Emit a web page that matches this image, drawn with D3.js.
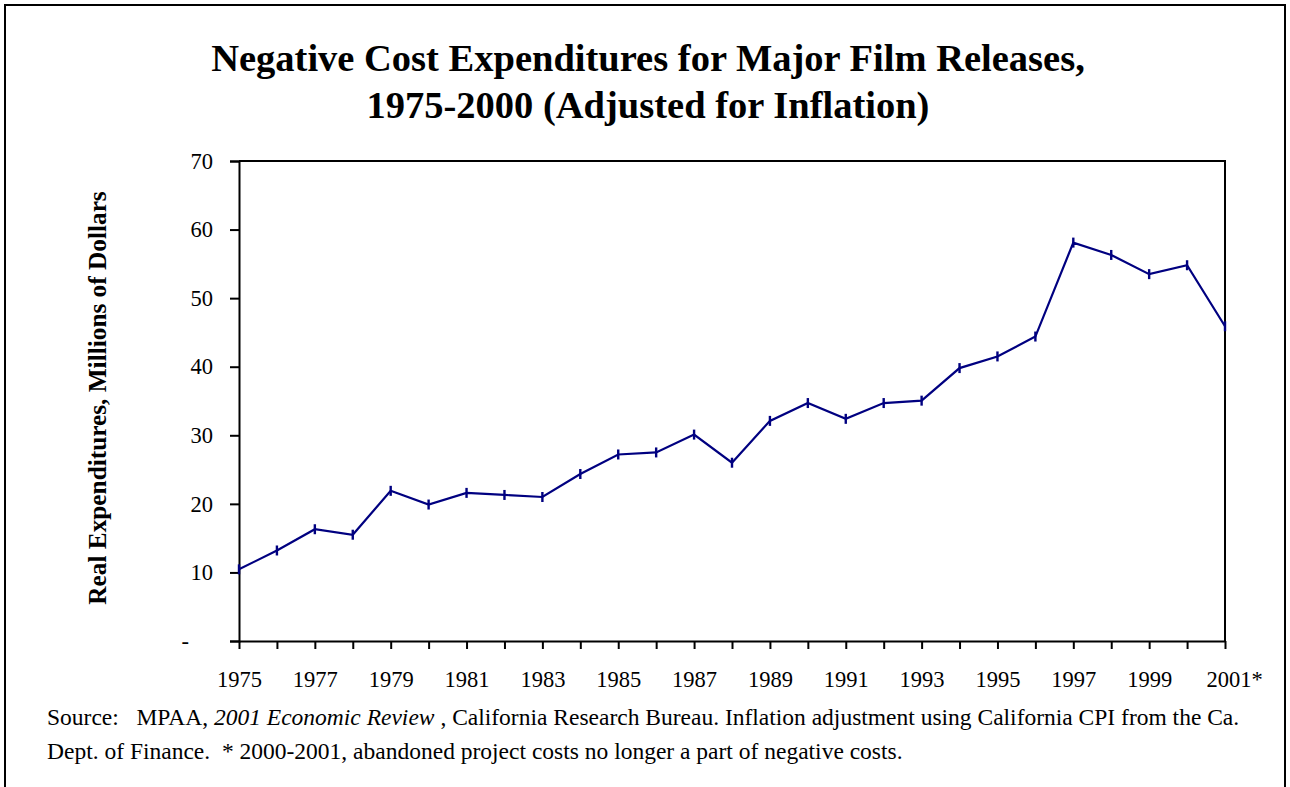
<!DOCTYPE html>
<html>
<head>
<meta charset="utf-8">
<script src="https://cdn.jsdelivr.net/npm/d3@7"></script>
<style>
  body { margin: 0; background: #fff; }
  text { font-family: "Liberation Serif", "Times New Roman", serif; fill: #000; white-space: pre; }
</style>
</head>
<body>
<svg id="chart"></svg>
<script>
// values
const years = d3.range(1975, 2002);
const expenditures = [
  10.45, 13.2, 16.3, 15.5, 21.9, 19.9, 21.6, 21.3, 21.0, 24.35,
  27.2, 27.5, 30.1, 26.0, 32.1, 34.7, 32.4, 34.7, 35.05, 39.8,
  41.5, 44.4, 58.1, 56.3, 53.5, 54.8, 45.9
];
const yTicks = [0, 10, 20, 30, 40, 50, 60, 70];
const xLabelYears = d3.range(1975, 2002, 2);

const titleLines = [
  "Negative Cost Expenditures for Major Film Releases,",
  "1975-2000 (Adjusted for Inflation)"
];
const yTitle = "Real Expenditures, Millions of Dollars";

const width = 1290, height = 787;
const margin = { top: 161, right: 65, bottom: 146, left: 239 };
const plotW = width - margin.left - margin.right;
const plotH = height - margin.top - margin.bottom;

const svg = d3.select("#chart").attr("width", width).attr("height", height);

// outer frame (bottom edge runs off the picture)
svg.append("rect")
  .attr("x", 5).attr("y", 5)
  .attr("width", 1280).attr("height", 800)
  .attr("fill", "none").attr("stroke", "#000").attr("stroke-width", 2);

svg.selectAll("text.title")
  .data(titleLines)
  .join("text")
  .attr("class", "title")
  .attr("x", 648)
  .attr("y", (d, i) => 71 + i * 47)
  .attr("text-anchor", "middle")
  .attr("font-weight", "bold")
  .attr("font-size", 38.5)
  .text((d) => d);

const g = svg.append("g").attr("transform", `translate(${margin.left},${margin.top})`);

const x = d3.scaleLinear().domain([1975, 2001]).range([0, plotW]);
const y = d3.scaleLinear().domain([0, 70]).range([plotH, 0]);

// top and right frame of plot area
g.append("path")
  .attr("d", `M0,0H${plotW}V${plotH}`)
  .attr("fill", "none").attr("stroke", "#000").attr("stroke-width", 2);

const yAxis = g.append("g")
  .call(d3.axisLeft(y).tickValues(yTicks).tickSize(9).tickPadding(17)
    .tickFormat((d) => (d === 0 ? "-" : d)));
yAxis.select(".domain").attr("stroke-width", 2);
yAxis.selectAll(".tick line").attr("stroke-width", 2);
yAxis.selectAll(".tick text")
  .attr("font-family", "Liberation Serif")
  .attr("font-size", 22.5);
yAxis.selectAll(".tick")
  .filter((d) => d === 0)
  .select("text")
  .attr("dx", -24);

const xAxis = g.append("g")
  .attr("transform", `translate(0,${plotH})`)
  .call(d3.axisBottom(x).tickValues(years).tickSize(8).tickSizeOuter(0).tickPadding(22)
    .tickFormat((d) => (xLabelYears.includes(d) ? (d === 2001 ? "2001*" : d) : "")));
xAxis.select(".domain").attr("stroke-width", 2);
xAxis.selectAll(".tick line").attr("stroke-width", 2);
xAxis.selectAll(".tick text")
  .attr("font-family", "Liberation Serif")
  .attr("font-size", 22.5);
xAxis.selectAll(".tick")
  .filter((d) => d === 2001)
  .select("text")
  .attr("dx", 9);

const points = years.map((yr, i) => [yr, expenditures[i]]);

g.append("path")
  .datum(points)
  .attr("fill", "none")
  .attr("stroke", "#000080")
  .attr("stroke-width", 2.2)
  .attr("d", d3.line().x((d) => x(d[0])).y((d) => y(d[1])));

g.selectAll("line.marker")
  .data(points)
  .join("line")
  .attr("class", "marker")
  .attr("x1", (d) => x(d[0])).attr("x2", (d) => x(d[0]))
  .attr("y1", (d) => y(d[1]) - 5).attr("y2", (d) => y(d[1]) + 5)
  .attr("stroke", "#000080")
  .attr("stroke-width", 2.4);

svg.append("text")
  .attr("transform", `translate(97,${margin.top + plotH / 2 - 3}) rotate(-90)`)
  .attr("text-anchor", "middle")
  .attr("dominant-baseline", "central")
  .attr("font-weight", "bold")
  .attr("font-size", 25.3)
  .text(yTitle);

// source note
const note = svg.append("text").attr("x", 47).attr("y", 725).attr("font-size", 23.5);
note.append("tspan").text("Source:   MPAA, ");
note.append("tspan").attr("font-style", "italic").text("2001 Economic Review");
note.append("tspan").text(" , California Research Bureau. Inflation adjustment using California CPI from the Ca.");
svg.append("text").attr("x", 47).attr("y", 759).attr("font-size", 23.5)
  .text("Dept. of Finance.  * 2000-2001, abandoned project costs no longer a part of negative costs.");
</script>
</body>
</html>
